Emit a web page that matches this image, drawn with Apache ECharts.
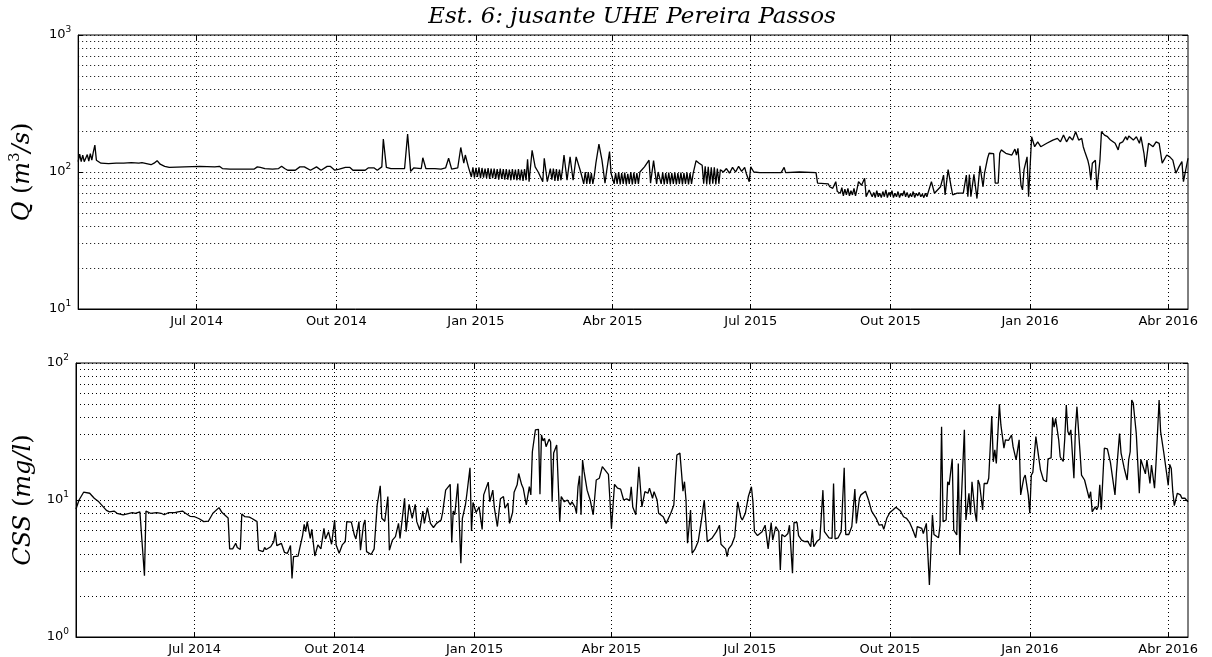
<!DOCTYPE html>
<html><head><meta charset="utf-8">
<script src="https://cdn.jsdelivr.net/npm/echarts@6/dist/echarts.min.js"></script>
<style>html,body{margin:0;padding:0;background:#fff}#c{width:1212px;height:657px}</style>
</head><body><div id="c"></div>
<script>
// day offsets since 2014-04-14
const startDate = '2014-04-14';
const endDate = '2016-04-14';
const qSeries = [[0,119],[1,135],[2,119],[3,133],[4,119],[5,121],[6,134],[7,120],[8,136],[9,122],[10,140],[11,157],[12,122],[13,118],[15,116],[20,115],[25,116],[30,116],[35,117],[40,116],[42,117],[45,115],[48,113],[50,116],[52,121],[54,114],[57,110],[60,108],[70,109],[80,110],[90,109],[93,110],[95,106],[100,105],[110,105],[116,105],[118,109],[120,108],[123,106],[128,105],[132,106],[134,110],[136,106],[138,103],[143,103],[146,109],[149,109],[153,103],[157,109],[160,103],[164,110],[166,110],[169,103],[172,105],[176,108],[179,108],[181,103],[189,103],[191,107],[195,107],[197,103],[200,109],[201,174],[203,108],[206,106],[215,106],[216,103],[217,189],[219,101],[221,107],[226,106],[227,127],[229,106],[235,106],[239,105],[242,107],[244,126],[246,105],[250,107],[252,151],[254,116],[255,133],[257,109],[258,106],
[259,92],[260,108],[261,91],[262,107],[263,92],[264,108],[265,90],[266,107],[267,91],[268,106],[269,90],[270,107],[271,89],[272,106],[273,90],[274,106],[275,89],[276,105],[277,88],[278,106],[279,89],[280,105],[281,88],[282,105],[283,88],[284,104],[285,87],[286,105],[287,88],[288,104],[289,87],[290,105],[291,87],[292,104],[293,86],[294,105],[295,87],
[296,124],[297,85],[299,144],[301,109],[303,100],[304,98],[306,85],[307,126],[309,85],[311,106],[312,88],[313,106],[314,86],[315,105],[316,86],[317,104],[318,87],[319,105],[320,133],[322,87],[324,129],[326,87],[328,129],[331,100],[333,82],[334,100],[335,82],[336,100],[337,82],[338,98],[339,82],[340,95],[341,116],[343,160],[345,122],[347,83],[348,100],[350,141],[351,98],[353,82],[354,98],[355,82],[356,100],[357,81],[358,98],[359,82],[360,99],[361,81],[362,97],[363,82],[364,100],[365,81],[366,99],[367,82],[368,98],[369,82],[370,100],[373,109],[376,122],[377,83],[379,121],[381,82],[382,100],[384,82],[385,99],[386,81],[387,98],[388,82],[389,99],[390,81],[391,98],[392,82],[393,99],[394,81],[395,98],[396,82],[397,99],[398,81],[399,98],[400,82],[401,99],[402,81],[403,98],[404,82],[405,97],[407,121],[409,116],[411,112],[412,82],[413,110],[414,81],[415,109],[416,81],[417,108],[418,82],[419,108],[420,81],[421,106],[422,82],[423,104],[425,100],[427,106],[429,98],[431,108],[433,100],[435,110],[437,101],[439,108],[440,98],[442,85],[443,109],[445,100],[449,99],[454,99],[458,99],[463,99],[465,108],[466,99],[475,100],[486,99],[487,83],[494,82],[495,78],[497,76],[499,85],[500,72],[502,70],[503,77],[504,67],[505,75],[506,68],[507,76],[508,67],[509,73],[510,68],[511,76],[512,67],[513,75],[514,85],[516,80],[518,90],[519,66],[521,74],
[522,72],[523,66],[524,71],[525,65],[526,73],[527,66],[528,70],[529,65],[530,72],[531,66],[532,74],[533,65],[534,71],[535,67],[536,73],[537,65],[538,70],[539,66],[540,72],[541,65],[542,70],[543,67],[544,73],[545,66],[546,71],[547,65],[548,69],[549,66],[550,72],[551,65],[552,70],[553,67],[554,71],[555,66],[556,69],[557,65],[558,70],[559,66],[560,68],
[562,85],[564,70],[568,78],[570,95],[571,68],[573,104],[575,78],[576,68],[579,70],[583,70],[585,95],[586,66],[587,96],[588,66],[590,96],[592,64],[594,111],[596,78],[597,98],[599,126],[600,137],[603,136],[604,83],[606,83],[607,137],[608,145],[611,137],[612,141],[615,133],[617,147],[618,133],[619,149],[620,145],[621,80],[622,74],[623,104],[625,129],[626,66],[628,181],[630,153],[632,166],[634,153],[638,162],[642,171],[645,176],[647,166],[649,186],[651,166],[653,181],[655,171],[657,197],[659,171],[661,176],[662,153],[663,141],[665,122],[666,109],[667,87],[668,116],[670,122],[671,74],[673,122],[674,197],[676,186],[678,181],[680,171],[683,162],[685,145],[686,162],[688,166],[690,181],[691,171],[692,183],[695,171],[697,181],[699,162],[700,181],[702,137],[703,109],[705,162],[708,153],[710,166],[712,162],[713,137],[714,116],[717,133],[719,129],[721,122],[723,98],[725,109],[727,119],[728,85],[729,87],[731,126]];

const cssSeries = [[0,8.6],[2,10],[5,11.4],[9,11.2],[12,10.3],[15,9.7],[20,8.4],[22,8.2],[25,8.3],[27,8.0],[31,7.8],[35,8.0],[37,8.1],[39,8.0],[42,8.2],[43,8.3],[45,2.8],[46,8.3],[49,8.0],[53,8.1],[56,8.0],[58,7.8],[61,8.1],[65,8.1],[67,8.2],[70,8.3],[72,8.0],[75,7.6],[78,7.55],[81,7.3],[84,6.95],[87,7.0],[90,8.0],[94,8.8],[96,8.1],[100,7.4],[101,4.4],[103,4.4],[105,4.83],[106,4.5],[108,4.35],[109,7.9],[111,7.55],[114,7.5],[116,7.3],[119,6.95],[120,4.3],[123,4.2],[124,4.5],[125,4.35],[128,4.56],[130,4.97],[131,5.87],[132,4.65],[135,4.83],[137,4.15],[139,4.08],[141,4.65],[142,2.68],[143,3.86],[146,3.9],[147,4.4],[149,5.55],[150,6.65],[151,5.87],[152,6.95],[154,5.25],[155,6.1],[157,3.9],[159,4.7],[161,4.4],[163,6.2],[164,5.2],[166,5.87],[168,4.75],[170,7.14],[171,4.7],[173,4.08],[175,4.7],[177,4.97],[178,6.95],[181,6.9],[183,5.55],[184,5.2],[186,6.95],[187,4.3],[189,6.6],[190,7.14],[191,4.2],[194,4.0],[196,4.4],[198,9.2],[200,12.7],[201,7.35],[203,7.0],[205,10.6],[206,4.3],[208,5.1],[210,5.4],[212,6.75],[213,5.25],[216,10.3],[217,5.87],[219,9.3],[221,7.35],[223,9.3],[224,6.95],[226,6.04],[228,8.3],[229,6.75],[231,8.8],[233,6.75],[235,6.3],[237,6.75],[240,7.14],[241,8.1],[243,11.8],[246,13],[247,4.9],[248,8.3],[249,7.8],[251,13.2],[253,3.45],[254,7.35],[256,9.2],[257,11.2],[258,10.9],[259,17.2],[260,5.95],[261,9.6],[263,8.1],[265,8.9],[267,6.1],[268,10.9],[271,13.5],[272,9.7],[274,11.8],[275,8.8],[277,6.4],[279,10.2],[281,10.6],[282,8.7],[284,9.5],[285,6.75],[287,8.1],[288,11.4],[290,12.9],[291,15.6],[293,12.9],[294,12.2],[296,9.2],[298,12.5],[299,10.9],[300,22.5],[302,32.5],[304,32.8],[305,11],[306,29.8],[307,27],[308,28.2],[309,24.5],[311,27.8],[312,26.5],[313,9.7],[314,22],[316,25.2],[317,24.8],[318,6.95],[319,10.6],[321,9.7],[323,10],[325,9.2],[326,9.7],[328,8.9],[329,8.0],[330,12.5],[331,15],[332,7.8],[333,19.6],[334,16.1],[336,11.8],[338,10],[340,7.8],[342,14],[344,14.4],[346,17.5],[347,18],[350,15.4],[351,10],[352,6.2],[354,13],[356,12.2],[358,12],[360,10],[362,10.2],[364,9.9],[365,12.5],[366,8.9],[368,7.8],[370,17.5],[371,17],[372,8.9],[373,9],[374,11.5],[376,11.2],[377,12.2],[379,10.3],[380,11.5],[382,10],[383,8.0],[386,7.55],[388,6.75],[391,8.0],[393,9.2],[394,14.4],[395,21.3],[397,22],[398,16.1],[399,11.6],[400,13.6],[401,10],[402,4.83],[404,8.45],[405,4.08],[407,4.4],[409,4.97],[411,6.95],[413,10],[415,4.97],[416,4.83],[418,5.25],[421,5.87],[423,6.55],[424,4.75],[427,4.4],[428,3.86],[429,4.4],[431,4.7],[433,5.4],[435,9.7],[437,7.5],[438,7.14],[440,8.0],[441,8.0],[442,10.6],[444,12.5],[445,9.7],[446,5.87],[448,5.5],[451,5.87],[453,6.55],[454,6.4],[455,4.4],[457,6.85],[458,5.1],[460,6.4],[462,5.87],[463,3.08],[464,5.6],[466,5.4],[468,5.7],[469,6.55],[471,2.92],[472,6.85],[474,6.85],[475,5.5],[477,5.1],[479,4.97],[481,5.0],[483,4.56],[484,6.1],[485,4.56],[487,4.97],[489,5.2],[491,11.8],[492,5.87],[495,5.3],[497,5.25],[498,13.2],[499,5.2],[501,5.3],[503,5.87],[505,17.2],[506,5.6],[508,5.6],[510,6.4],[512,12],[513,6.75],[515,10.3],[516,10.9],[519,11.6],[521,10],[523,8.3],[526,7.35],[528,6.55],[530,6.6],[531,6.1],[533,7.35],[535,8.1],[537,8.45],[539,8.85],[542,8.3],[544,7.55],[546,7.35],[548,6.85],[550,6.1],[552,5.3],[553,6.4],[556,6.2],[557,5.7],[559,6.75],[560,6.95],[561,2.4],[563,7.8],[564,5.6],[567,5.3],[568,6.55],[569,34.2],[570,6.95],[572,7.14],[573,13.6],[574,12.9],[576,20],[577,6.04],[579,5.55],[580,18.5],[581,3.97],[582,10],[584,32.5],[585,7.14],[587,11.2],[588,7.8],[589,13.6],[591,8.1],[592,6.95],[593,14],[594,13],[596,8.45],[597,13.2],[599,13.2],[600,14.4],[602,41],[603,19],[604,23.2],[605,18.5],[607,49.9],[608,35.3],[610,23.9],[611,27.5],[613,27.2],[615,29.8],[616,24.5],[618,19.6],[620,27.5],[621,10.9],[623,14.4],[624,15.2],[626,10.9],[627,8.0],[628,15.2],[629,15.9],[631,29],[632,28.2],[634,16.6],[636,14],[638,13.6],[639,20],[641,20.3],[642,39.9],[643,34],[644,39.4],[646,27.5],[647,20.6],[649,19.1],[650,28.2],[651,49.4],[652,31.6],[653,29.8],[654,32.5],[656,14.4],[657,33.3],[658,48],[660,22.5],[661,15.2],[663,14],[664,14.2],[666,10.3],[667,11.5],[668,8.2],[670,8.9],[671,8.5],[672,9.0],[673,12.9],[674,8.5],[676,23.9],[677,23.9],[678,23.6],[680,18.8],[681,18.6],[683,10.9],[684,16.1],[686,30.6],[687,22],[689,17.2],[691,14],[692,19.6],[693,22.5],[694,53.7],[695,51],[697,30.6],[699,11.2],[700,19.8],[701,19.6],[703,15.5],[704,19.6],[706,13.2],[707,18],[709,12.2],[710,18.8],[711,31.6],[712,53.7],[713,31.6],[715,22.5],[716,23.2],[717,15.5],[718,12.8],[719,18.2],[720,17],[721,11.5],[722,9.1],[724,11.2],[726,10.9],[727,10.3],[729,10.3],[731,9.7]];

const xTickDates = ['2014-07-01','2014-10-01','2015-01-01','2015-04-01','2015-07-01','2015-10-01','2016-01-01','2016-04-01'];
const xTickLabels = ['Jul 2014','Out 2014','Jan 2015','Abr 2015','Jul 2015','Out 2015','Jan 2016','Abr 2016'];
const qGridValues = [10,20,30,40,50,60,70,80,90,100,200,300,400,500,600,700,800,900,1000];
const cssGridValues = [1,2,3,4,5,6,7,8,9,10,20,30,40,50,60,70,80,90,100];
const qRange = [10, 1000];
const cssRange = [1, 100];
const titleText = 'Est. 6: jusante UHE Pereira Passos';

const DAY = 86400000;
const t0 = Date.parse(startDate);
const t1 = Date.parse(endDate);
const xTickTimes = xTickDates.map(d => Date.parse(d));
const toData = s => s.map(p => [t0 + p[0] * DAY, p[1]]);

const chart = echarts.init(document.getElementById('c'), null, {renderer: 'canvas'});
const gridStyle = {color: '#000', width: 1, type: [1, 3]};
const supRich = {
  b: {fontFamily: 'DejaVu Sans', fontSize: 13, color: '#000', lineHeight: 14},
  s: {fontFamily: 'DejaVu Sans', fontSize: 9, color: '#000', lineHeight: 10, padding: [0, 0, 10, 0]}
};
const nameRich = {
  i: {fontFamily: 'DejaVu Serif', fontStyle: 'italic', fontSize: 24, color: '#000', lineHeight: 26},
  r: {fontFamily: 'DejaVu Serif', fontSize: 24, color: '#000', lineHeight: 26},
  s: {fontFamily: 'DejaVu Serif', fontSize: 15, color: '#000', lineHeight: 15, padding: [0, 0, 15, 0]}
};
function xMain(g) {
  return {
    type: 'value', gridIndex: g, min: t0, max: t1,
    axisLine: {show: true, lineStyle: {color: '#000', width: 1}},
    axisTick: {show: true, inside: true, length: 5, customValues: xTickTimes, lineStyle: {color: '#000'}},
    axisLabel: {show: true, customValues: xTickTimes, margin: 6, color: '#000', fontFamily: 'DejaVu Sans', fontSize: 13,
      formatter: v => { const i = xTickTimes.findIndex(t => Math.abs(t - v) < DAY); return i >= 0 ? xTickLabels[i] : ''; }},
    splitLine: {show: false}
  };
}
function xTop(g) {
  return {
    type: 'value', gridIndex: g, min: t0, max: t1, position: 'top',
    axisLine: {show: false}, axisLabel: {show: false},
    axisTick: {show: true, inside: true, length: 5, customValues: xTickTimes, lineStyle: {color: '#000'}},
    splitLine: {show: false}
  };
}
function yMain(g, range, name) {
  return {
    type: 'log', logBase: 10, gridIndex: g, min: range[0], max: range[1],
    axisLine: {show: true, lineStyle: {color: '#000', width: 1}},
    axisTick: {show: true, inside: true, length: 5, lineStyle: {color: '#000'}},
    axisLabel: {show: true, margin: 7, formatter: v => '{b|10}{s|' + Math.round(Math.log10(v)) + '}', rich: supRich},
    splitLine: {show: false},
    name: name, nameLocation: 'middle', nameGap: 36, nameRotate: 90,
    nameTextStyle: {rich: nameRich}
  };
}
function yRight(g, range) {
  return {
    type: 'log', logBase: 10, gridIndex: g, min: range[0], max: range[1], position: 'right',
    axisLine: {show: false}, axisLabel: {show: false},
    axisTick: {show: true, inside: true, length: 5, lineStyle: {color: '#000'}},
    splitLine: {show: false}
  };
}
function gridLines(vals) {
  return vals.map(v => ({yAxis: v})).concat(xTickTimes.map(t => ({xAxis: t})));
}
function lineSeries(xi, yi, data, vals) {
  return {
    type: 'line', xAxisIndex: xi, yAxisIndex: yi, data: data,
    showSymbol: false, symbol: 'none', animation: false,
    lineStyle: {color: '#000', width: 1.3}, itemStyle: {color: '#000'},
    markLine: {silent: true, symbol: 'none', animation: false, label: {show: false},
      lineStyle: gridStyle, emphasis: {disabled: true}, data: gridLines(vals)}
  };
}

chart.setOption({
  animation: false,
  backgroundColor: '#fff',
  grid: [
    {left: 76, right: 24, top: 35, height: 274, show: true, borderColor: '#000', borderWidth: 1},
    {left: 76, right: 24, top: 363, height: 274, show: true, borderColor: '#000', borderWidth: 1}
  ],
  xAxis: [xMain(0), xMain(1), xTop(0), xTop(1)],
  yAxis: [
    yMain(0, qRange, '{i|Q }{r|(}{i|m}{s|3}{i|/s}{r|)}'),
    yMain(1, cssRange, '{i|CSS }{r|(}{i|mg/l}{r|)}'),
    yRight(0, qRange), yRight(1, cssRange)
  ],
  graphic: [{
    type: 'text', x: 632, y: 17,
    style: {text: titleText, fontFamily: 'DejaVu Serif', fontStyle: 'italic', fontSize: 23, fill: '#000', align: 'center', verticalAlign: 'middle'}
  }],
  series: [
    lineSeries(0, 0, toData(qSeries), qGridValues),
    lineSeries(1, 1, toData(cssSeries), cssGridValues)
  ]
});
</script></body></html>
